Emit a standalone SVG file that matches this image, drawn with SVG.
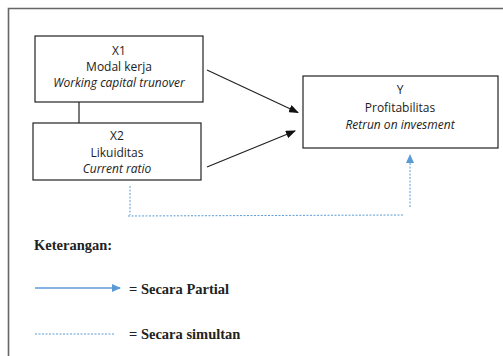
<svg xmlns="http://www.w3.org/2000/svg" width="503" height="356" viewBox="0 0 503 356">
<style>
.box{fill:#fff;stroke:#222;stroke-width:1.2}
.t{font-family:"Open Sans","DejaVu Sans",sans-serif;font-size:12px;fill:#222;text-anchor:middle}
.i{font-style:italic}
.leg{font-family:"Liberation Serif",serif;font-weight:bold;font-size:14.5px;fill:#222}
.dot{stroke:#5b9bd5;stroke-width:1;stroke-dasharray:2,1.5;fill:none}
</style>
<defs>
<marker id="ah" markerWidth="10" markerHeight="8" refX="9" refY="4" orient="auto" markerUnits="userSpaceOnUse"><path d="M0,0 L10,4 L0,8 Z" fill="#111"/></marker>
<marker id="ab" markerWidth="9" markerHeight="8" refX="8" refY="4" orient="auto" markerUnits="userSpaceOnUse"><path d="M0,0 L9,4 L0,8 Z" fill="#5b9bd5"/></marker>
</defs>
<path d="M8.5,356 V8.5 H503" fill="none" stroke="#666" stroke-width="1.6"/>
<g id="connectors">
<line x1="79" y1="102" x2="79" y2="123" stroke="#222" stroke-width="1.2"/>
<line x1="207" y1="70" x2="298" y2="112.5" stroke="#222" stroke-width="1.2" marker-end="url(#ah)"/>
<line x1="207" y1="167" x2="295" y2="131" stroke="#222" stroke-width="1.2" marker-end="url(#ah)"/>
<line class="dot" x1="130" y1="186" x2="130" y2="215"/>
<line class="dot" x1="128" y1="216" x2="403" y2="215"/>
<line class="dot" x1="410" y1="207" x2="410" y2="155" marker-end="url(#ab)"/>
</g>
<g id="X1">
<rect class="box" x="35" y="36" width="168" height="66"/>
<text class="t" x="119" y="55">X1</text>
<text class="t" x="119" y="71">Modal kerja</text>
<text class="t i" x="119" y="87">Working capital trunover</text>
</g>
<g id="X2">
<rect class="box" x="33" y="123" width="168" height="57"/>
<text class="t" x="117" y="140">X2</text>
<text class="t" x="117" y="157">Likuiditas</text>
<text class="t i" x="117" y="173">Current ratio</text>
</g>
<g id="Y">
<rect class="box" x="303" y="76" width="195" height="72"/>
<text class="t" x="400" y="94">Y</text>
<text class="t" x="400" y="112">Profitabilitas</text>
<text class="t i" x="400" y="129">Retrun on invesment</text>
</g>
<g id="legend">
<text class="leg" x="34" y="250">Keterangan:</text>
<line x1="35" y1="288" x2="120" y2="288" stroke="#5b9bd5" stroke-width="1.5" marker-end="url(#ab)"/>
<text class="leg" x="129" y="294">= Secara Partial</text>
<line class="dot" x1="35" y1="334" x2="115" y2="334"/>
<text class="leg" x="129" y="339">= Secara simultan</text>
</g>
</svg>
